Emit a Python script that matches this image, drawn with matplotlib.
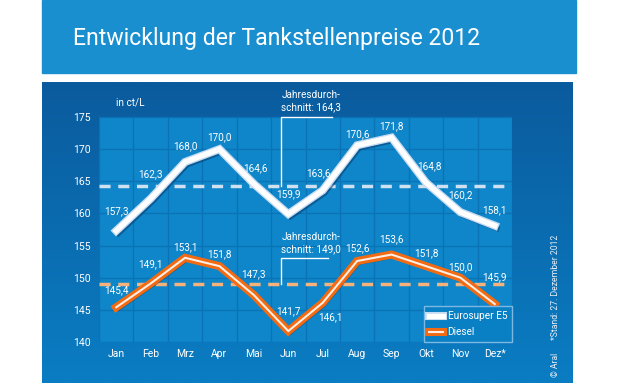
import numpy as np
import matplotlib
matplotlib.use("Agg")
import matplotlib.pyplot as plt
import matplotlib.patheffects as pe
from matplotlib.patches import Rectangle
from matplotlib.lines import Line2D

plt.rcParams['font.family'] = ['Roboto', 'DejaVu Sans']

# --- Daten ---
monate = ["Jan", "Feb", "Mrz", "Apr", "Mai", "Jun", "Jul", "Aug", "Sep", "Okt", "Nov", "Dez*"]
e5 = [157.3, 162.3, 168.0, 170.0, 164.6, 159.9, 163.6, 170.6, 171.8, 164.8, 160.2, 158.1]
diesel = [145.4, 149.1, 153.1, 151.8, 147.3, 141.7, 146.1, 152.6, 153.6, 151.8, 150.0, 145.9]
e5_mittel = 164.3
diesel_mittel = 149.0
y_ticks = [140, 145, 150, 155, 160, 165, 170, 175]

# Versatz der Wertbeschriftungen zum Punkt (Pixel)
e5_dy = [20, 24, 16, 12, 16, 20, 17, 11, 11, 16, 17, 15]
e5_dx = [0, 0, 0, 0, 2, 0, -4, 0, 0, 3, 0, 0]
diesel_dy = [17, 19, 11, 12, 21, 20, -14, 13, 15, 13, 11, 27]
diesel_dx = [0, 0, 0, 0, 0, 0, 8, 0, 0, 0, 0, 0]

W, H = 620, 385
fs = 7.2
fig = plt.figure(figsize=(W / 100, H / 100), dpi=100)
fig.patch.set_facecolor("white")


def fx(px):
    return px / W


def fy(py):
    return 1 - py / H


# Kopfzeile
fig.patches.append(Rectangle((fx(42), fy(73)), fx(576) - fx(42), fy(0) - fy(73),
                             transform=fig.transFigure, color="#1a8fd0", zorder=0))
fig.text(fx(73), fy(38), "Entwicklung der Tankstellenpreise 2012", color="white",
         fontsize=16.6, va="center", ha="left")

# Unteres Feld mit Verlauf
bg = fig.add_axes([fx(42), fy(383), fx(573) - fx(42), fy(82) - fy(383)])
grad = np.linspace(0, 1, 256).reshape(-1, 1)
cmap = matplotlib.colors.LinearSegmentedColormap.from_list("bg", ["#0b5b9d", "#0a7dc3"])
bg.imshow(grad, aspect="auto", cmap=cmap, extent=[0, 1, 0, 1], origin="upper")
bg.axis("off")

# Diagramm
ax = fig.add_axes([fx(99), fy(342), fx(512) - fx(99), fy(117) - fy(342)])
ax.set_facecolor("#0e86c9")
x = np.arange(len(monate))
ax.set_xlim(-0.5, len(monate) - 0.5)
ax.set_ylim(140, 175)
ax.set_xticks(x)
ax.set_xticklabels(monate)
ax.set_yticks(y_ticks)
ax.set_xticks(np.arange(len(monate) + 1) - 0.5, minor=True)
ax.grid(which="minor", axis="x", color="#0b72b6", lw=1)
ax.grid(which="major", axis="y", color="#0b72b6", lw=1)
ax.tick_params(which="both", length=0, colors="white", labelsize=fs + 0.3)
ax.tick_params(axis="y", pad=6)
ax.tick_params(axis="x", pad=5)
for s in ax.spines.values():
    s.set_visible(False)
ax.set_axisbelow(True)

# Jahresdurchschnitt
ax.axhline(e5_mittel, color="#cfe0f0", lw=2.5, dashes=(3.2, 2.2), zorder=2)
ax.axhline(diesel_mittel, color="#f7b27c", lw=2.5, dashes=(3.2, 2.2), zorder=2)

shadow = pe.SimpleLineShadow(offset=(1.5, -2), shadow_color="#06386b", alpha=0.55)
e5_fx = [shadow, pe.Stroke(linewidth=5.8, foreground="#c6dcf2"), pe.Normal()]
d_fx = [shadow, pe.Stroke(linewidth=5.8, foreground="#f26a12"), pe.Normal()]

ax.plot(x, e5, color="white", lw=3.8, solid_joinstyle="miter", path_effects=e5_fx,
        zorder=4, label="Eurosuper E5")
ax.plot(x, diesel, color="#ffeee4", lw=1.5, solid_joinstyle="miter", path_effects=d_fx,
        zorder=4, label="Diesel")


def fmt(v):
    return f"{v:.1f}".replace(".", ",")


for xi, v, dx, dy in zip(x, e5, e5_dx, e5_dy):
    ax.annotate(fmt(v), (xi, v), xytext=(dx * 0.72, dy * 0.72), textcoords="offset points",
                ha="center", va="center", color="white", fontsize=fs, zorder=5)
for xi, v, dx, dy in zip(x, diesel, diesel_dx, diesel_dy):
    ax.annotate(fmt(v), (xi, v), xytext=(dx * 0.72, dy * 0.72), textcoords="offset points",
                ha="center", va="center", color="white", fontsize=fs, zorder=5)

# Klammern fuer Durchschnitt
bx = 4.8
ax.plot([bx, bx, 6.26], [e5_mittel, 175, 175], color="white", lw=1, zorder=3, clip_on=False)
ax.text(bx, 175.7, "Jahresdurch-\nschnitt: " + fmt(e5_mittel), color="white", fontsize=fs,
        ha="left", va="bottom", linespacing=1.3, clip_on=False)
ax.plot([bx, bx, 6.15], [diesel_mittel, 153.1, 153.1], color="white", lw=1, zorder=3)
ax.text(bx, 153.7, "Jahresdurch-\nschnitt: " + fmt(diesel_mittel), color="white", fontsize=fs,
        ha="left", va="bottom", linespacing=1.3)

ax.text(0, 177.2, "in ct/L", color="white", fontsize=fs, ha="left", va="center", clip_on=False)

# Legende
h_e5 = Line2D([], [], color="white", lw=3.8, path_effects=[pe.Stroke(linewidth=5.8, foreground="#c6dcf2"), pe.Normal()])
h_d = Line2D([], [], color="#ffeee4", lw=1.5, path_effects=[pe.Stroke(linewidth=5.8, foreground="#f26a12"), pe.Normal()])
leg = ax.legend([h_e5, h_d], ["Eurosuper E5", "Diesel"], loc="lower right", bbox_to_anchor=(1, 0),
                borderaxespad=0, fontsize=fs, frameon=True, fancybox=False, handlelength=1.4,
                handletextpad=0.45, labelspacing=0.6, borderpad=0.5)
leg.get_frame().set_facecolor("#0a80c4")
leg.get_frame().set_edgecolor("#7cb8e4")
leg.get_frame().set_linewidth(1)
leg.get_frame().set_alpha(1)
for t in leg.get_texts():
    t.set_color("white")
leg.set_zorder(6)

fig.text(fx(555), fy(306), "\u00a9 Aral      *Stand: 27. Dezember 2012", rotation=90,
         color="#e6eef6", fontsize=6.2, ha="center", va="center")

fig.savefig("out.png", dpi=100, facecolor="white")
